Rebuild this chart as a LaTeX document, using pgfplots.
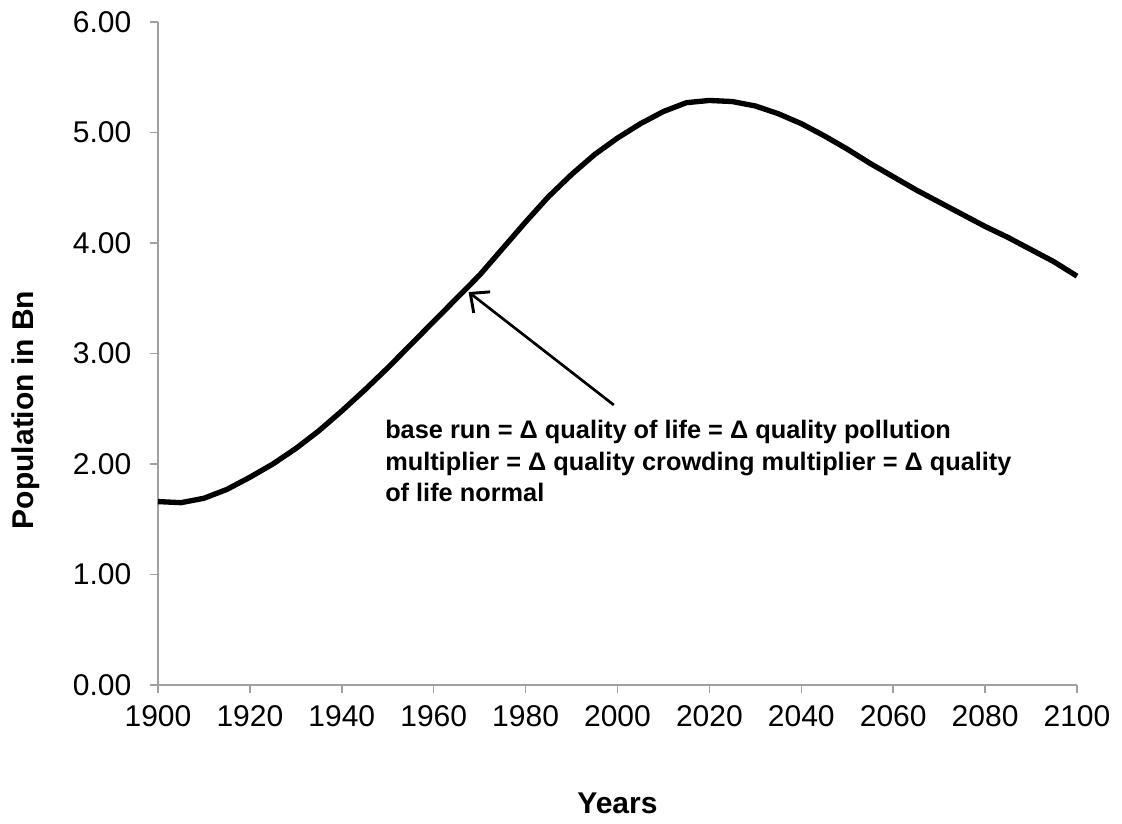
\documentclass[border=0pt]{standalone}
\usepackage{pgfplots}
\pgfplotsset{compat=1.18}
\usetikzlibrary{arrows.meta}
\usepackage{fontspec}
\setmainfont{Liberation Sans}
\definecolor{axgray}{RGB}{160,160,160}
\pgfplotstableread{
year pop
1900 1.66
1905 1.65
1910 1.69
1915 1.77
1920 1.88
1925 2.00
1930 2.14
1935 2.30
1940 2.48
1945 2.67
1950 2.87
1955 3.08
1960 3.29
1965 3.50
1970 3.71
1975 3.95
1980 4.19
1985 4.42
1990 4.62
1995 4.80
2000 4.95
2005 5.08
2010 5.19
2015 5.27
2020 5.29
2025 5.28
2030 5.24
2035 5.17
2040 5.08
2045 4.97
2050 4.85
2055 4.72
2060 4.60
2065 4.48
2070 4.37
2075 4.26
2080 4.15
2085 4.05
2090 3.94
2095 3.83
2100 3.70
}\popdata
\begin{document}
\begin{tikzpicture}
\path[use as bounding box] (-118.5pt,-104.25pt) rectangle (723pt,513.75pt);
\begin{axis}[
  at={(0,0)}, anchor=origin,
  scale only axis,
  width=689.25pt, height=497.25pt,
  xmin=1900, xmax=2100, ymin=0, ymax=6,
  xtick={1900,1920,...,2100},
  ytick={0,1,...,6},
  axis x line=bottom, axis y line=left,
  axis line style={axgray, line width=1.2pt, -},
  tick style={axgray, line width=1.2pt},
  tick align=outside,
  major tick length=6pt,
  x tick label style={/pgf/number format/1000 sep={}, font=\fontsize{22.5}{27}\selectfont, yshift=-6pt},
  y tick label style={/pgf/number format/.cd, fixed, fixed zerofill, precision=2, /tikz/.cd, font=\fontsize{22.5}{27}\selectfont, xshift=-10.5pt},
  /pgf/number format/assume math mode=true,
  xlabel={\textbf{Years}},
  ylabel={\textbf{Population in Bn}},
  xlabel style={font=\fontsize{22.5}{27}\selectfont, at={(axis description cs:0.5,-0.178)}, anchor=center},
  ylabel style={font=\fontsize{22.5}{27}\selectfont, at={(axis description cs:-0.1436,0.415)}, anchor=center},
  clip=false,
]
\addplot[black, line width=4pt, line join=round] table[x=year, y=pop] {\popdata};
\draw[black, line width=2pt, -{Straight Barb[length=11pt, width=20pt, line width=2.2pt]}] (axis cs:1999.2,2.534) -- (axis cs:1967.6,3.556);
\node[anchor=north west, inner sep=0pt, align=left, font=\fontsize{19}{23.7}\selectfont\bfseries] at (axis cs:1949.4,2.40)
  {base run = Δ quality of life = Δ quality pollution\\
   multiplier = Δ quality crowding multiplier = Δ quality\\
   of life normal};
\end{axis}
\end{tikzpicture}
\end{document}
